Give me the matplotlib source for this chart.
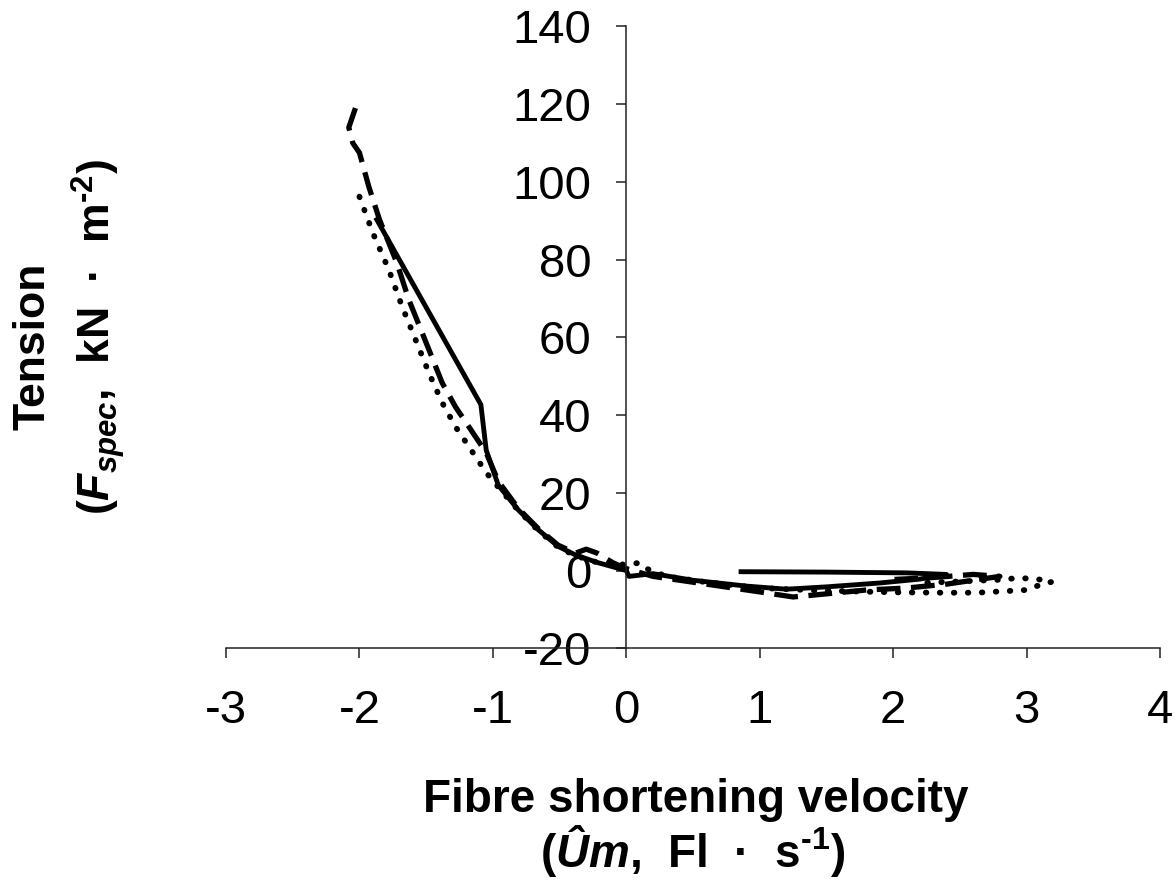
import numpy as np
import matplotlib as mpl
import matplotlib.pyplot as plt

mpl.rcParams['font.family'] = ['Liberation Sans', 'DejaVu Sans']
mpl.rcParams['mathtext.fontset'] = 'custom'
mpl.rcParams['mathtext.rm'] = 'Liberation Sans:bold'
mpl.rcParams['mathtext.it'] = 'Liberation Sans:bold:italic'
mpl.rcParams['mathtext.bf'] = 'Liberation Sans:bold'
mpl.rcParams['mathtext.bfit'] = 'Liberation Sans:bold:italic'

# solid trace (velocity, tension)
solid_x = [-1.87, -1.09, -1.05, -0.96, -0.81, -0.66, -0.51, -0.38, -0.21, 0.0,
           0.02, 0.2, 0.5, 0.9, 1.2, 1.5, 1.9, 2.2, 2.4, 2.1, 1.5, 0.86]
solid_y = [90.3, 42.7, 31.0, 22.0, 15.6, 10.5, 6.2, 4.0, 2.0, 0.0,
           -1.5, -0.8, -2.5, -4.0, -4.8, -4.2, -3.2, -2.2, -1.0, -0.6, -0.4, -0.3]

# dashed trace
dash_x = [-2.03, -2.08, -2.05, -2.0, -1.93, -1.85, -1.72, -1.63, -1.5, -1.38,
          -1.28, -1.18, -1.05, -0.96, -0.81, -0.66, -0.51, -0.38, -0.3, -0.22,
          -0.1, 0.0, 0.2, 0.5, 0.8, 1.0, 1.25, 1.5, 1.8, 2.1, 2.4, 2.6, 2.8,
          2.6, 2.3, 2.0]
dash_y = [119, 114, 110, 107.5, 98.8, 90.3, 79.2, 69.7, 58.6, 48.3,
          42.1, 37.0, 30.3, 23.0, 16.0, 10.8, 6.5, 4.5, 5.5, 4.5,
          2.0, 0.5, -1.5, -3.0, -4.5, -5.5, -6.8, -6.0, -5.0, -4.5, -3.5, -2.5, -1.5,
          -1.0, -1.8, -2.3]

# dotted trace
dot_x = [-2.0, -1.9, -1.78, -1.68, -1.57, -1.48, -1.38, -1.28, -1.18, -1.05,
         -0.96, -0.81, -0.66, -0.51, -0.38, -0.21, 0.0, 0.1, 0.15, 0.3, 0.6,
         1.0, 1.5, 2.0, 2.35, 2.63, 3.0, 3.1, 3.19, 3.13, 2.95, 2.78, 2.5, 2.2]
dot_y = [96.2, 86.9, 77.4, 67.9, 58.6, 50.9, 43.2, 37.0, 31.9, 25.2,
         21.5, 15.5, 10.3, 6.0, 3.8, 2.0, 1.5, 2.0, 0.5, -1.5, -3.0,
         -4.5, -5.2, -5.6, -5.7, -5.7, -5.0, -3.7, -2.9, -2.4, -1.9, -2.4, -2.8, -3.2]

xticks = [-3, -2, -1, 0, 1, 2, 3, 4]
yticks = [-20, 0, 20, 40, 60, 80, 100, 120, 140]

fig = plt.figure(figsize=(11.76, 8.82), dpi=100)
ax = fig.add_axes([0.1922, 0.265, 0.7942, 0.705])

ax.plot(solid_x, solid_y, color='black', lw=3.5, solid_joinstyle='round')
ax.plot(dash_x, dash_y, color='black', lw=3.8, linestyle=(0, (4.5, 2)),
        dash_capstyle='butt')
ax.plot(dot_x, dot_y, color='black', lw=4.2, linestyle=(0, (0.1, 2.3)),
        dash_capstyle='round')

ax.set_xlim(-3, 4)
ax.set_ylim(-20, 140)
ax.set_xticks(xticks)
ax.set_yticks(yticks)
ax.set_xticklabels([str(v) for v in xticks])
ax.set_yticklabels([str(v) for v in yticks])

ax.spines['left'].set_position(('data', 0))
ax.spines['right'].set_visible(False)
ax.spines['top'].set_visible(False)
for s in ['left', 'bottom']:
    ax.spines[s].set_linewidth(1.1)
    ax.spines[s].set_color('#222222')

ax.tick_params(axis='both', direction='out', length=7, width=1.1,
               color='#222222', labelsize=34)
ax.tick_params(axis='x', pad=22)
ax.tick_params(axis='y', pad=18)

fig.text(0.592, 0.079, 'Fibre shortening velocity', fontsize=33,
         fontweight='bold', ha='center', va='baseline')
fig.text(0.589, 0.017,
         r'($\mathit{Ûm}$,  Fl  ·  s$^{\text{-1}}$)',
         fontsize=33, fontweight='bold', ha='center', va='baseline')

fig.text(0.028, 0.607, 'Tension', fontsize=32, fontweight='bold',
         rotation=90, ha='center', va='center')
fig.text(0.083, 0.618,
         r'($\mathit{F}_{\mathit{spec}}$,  kN  ·  m$^{\text{-2}}$)',
         fontsize=32, fontweight='bold', rotation=90, ha='center', va='center')

plt.savefig('out.png', dpi=100)
plt.close()
